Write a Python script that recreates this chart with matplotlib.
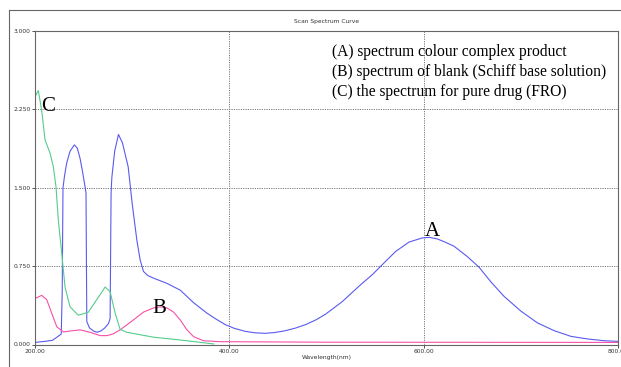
import matplotlib
matplotlib.use("Agg")
import matplotlib.pyplot as plt
from matplotlib.lines import Line2D

# curve A - colour complex product
wl_a = [200, 210, 218, 224, 227, 228, 228.8, 230.5, 232.7, 236.1, 240.5, 243.5,
        246.4, 249, 251.5, 252.5, 253.3, 256, 260, 263.6, 268, 272, 275.6, 277.3,
        278.3, 279.1, 282, 285.9, 290, 295.9, 300, 304.8, 308.2, 311.6, 316, 322,
        335.8, 349.5, 363.2, 377, 386, 395.9, 405, 416.5, 426, 437.1, 447, 457.7,
        468, 478.4, 489, 499, 516.2, 533.3, 547.1, 557.4, 571.1, 584.9, 598.6,
        606, 614.1, 622, 631.3, 645.1, 657, 669.1, 682.8, 700, 717.2, 734.4,
        751.5, 768.7, 785.9, 800]
abs_a = [0.02, 0.03, 0.04, 0.08, 0.10, 0.5, 1.50, 1.62, 1.74, 1.85, 1.91, 1.88,
         1.78, 1.65, 1.51, 1.45, 0.22, 0.16, 0.13, 0.117, 0.13, 0.16, 0.20, 0.25,
         1.45, 1.60, 1.85, 2.01, 1.93, 1.70, 1.35, 1.00, 0.81, 0.70, 0.66, 0.635,
         0.585, 0.52, 0.40, 0.30, 0.245, 0.19, 0.155, 0.126, 0.112, 0.107, 0.115, 0.132,
         0.157, 0.19, 0.235, 0.29, 0.41, 0.557, 0.668, 0.764, 0.89, 0.98, 1.02,
         1.025, 1.01, 0.98, 0.94, 0.84, 0.74, 0.60, 0.46, 0.32, 0.206, 0.132,
         0.078, 0.053, 0.036, 0.03]

# curve B - blank (Schiff base solution)
wl_b = [200, 206.9, 212, 217.2, 222.4, 229.2, 237, 246.4, 256.7, 267, 273.9, 280,
        287.6, 301.3, 311.6, 322, 329, 335.8, 342.6, 349.5, 356.4, 363.2, 373.5,
        390.7, 500, 800]
abs_b = [0.44, 0.47, 0.43, 0.30, 0.17, 0.12, 0.13, 0.14, 0.117, 0.085, 0.085, 0.10,
         0.14, 0.235, 0.31, 0.35, 0.36, 0.35, 0.31, 0.235, 0.14, 0.075, 0.036,
         0.027, 0.022, 0.02]

# curve C - pure drug (FRO)
wl_c = [200, 203.4, 206.9, 210.3, 215.5, 218.9, 221.6, 224, 227.5, 230.9, 236.1,
        244.6, 255, 263.6, 272.2, 277.3, 282.5, 287.6, 294.5, 322, 356.4, 384]
abs_c = [2.37, 2.43, 2.24, 1.96, 1.83, 1.70, 1.51, 1.19, 0.875, 0.55, 0.36,
         0.28, 0.31, 0.43, 0.55, 0.505, 0.30, 0.145, 0.117, 0.07, 0.036, 0.005]

x_ticks = [200, 400, 600, 800]
y_ticks = [0.0, 0.75, 1.5, 2.25, 3.0]
legend_lines = ["(A) spectrum colour complex product",
                "(B) spectrum of blank (Schiff base solution)",
                "(C) the spectrum for pure drug (FRO)"]

W, H = 621, 367


def fx(px):
    return px / W


def fy(py):
    return 1 - py / H


fig = plt.figure(figsize=(W / 100, H / 100), dpi=100)
ax = fig.add_axes([fx(35), fy(344.5), fx(618) - fx(35), fy(31) - fy(344.5)])

ax.plot(wl_a, abs_a, color="#5a5af0", lw=0.8)
ax.plot(wl_b, abs_b, color="#f550a8", lw=0.8)
ax.plot(wl_c, abs_c, color="#55cc8c", lw=0.8)

ax.set_xlim(200, 800)
ax.set_ylim(0, 3.0)
ax.set_xticks(x_ticks)
ax.set_xticklabels(["%.2f" % v for v in x_ticks])
ax.set_yticks(y_ticks)
ax.set_yticklabels(["%.3f" % v for v in y_ticks])
ax.tick_params(axis="both", labelsize=4.3, colors="#333333", length=2, width=0.6, pad=1)
ax.grid(True, linestyle=(0, (1.2, 1.2)), color="#777777", lw=0.7)
for s in ax.spines.values():
    s.set_color("#666666")
    s.set_linewidth(0.8)
ax.set_xlabel("Wavelength(nm)", fontsize=4.3, labelpad=1, color="#333333")

# peak labels
ax.text(609, 1.038, "A", fontsize=15, family="Liberation Serif", ha="center", va="baseline")
ax.text(327.8, 0.30, "B", fontsize=15, family="Liberation Serif", ha="center", va="baseline")
ax.text(213, 2.234, "C", fontsize=15, family="Liberation Serif", ha="center", va="baseline")

# legend text block
for i, line in enumerate(legend_lines):
    fig.text(fx(332), fy(56 + i * 20), line, fontsize=11.2, family="Liberation Serif",
             ha="left", va="baseline")

# outer window frame and title
fig.add_artist(Line2D([fx(9), 1], [fy(10), fy(10)], color="#666666", lw=0.8))
fig.add_artist(Line2D([fx(9), fx(9)], [fy(10), 0], color="#666666", lw=0.8))
fig.text(fx(326), fy(22), "Scan Spectrum Curve", fontsize=4.3, ha="center", va="center",
         color="#333333")

fig.savefig("out.png", dpi=100)
